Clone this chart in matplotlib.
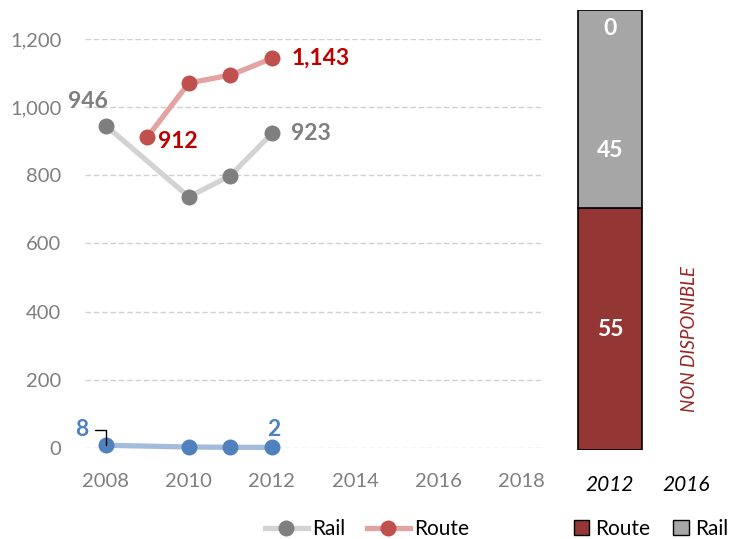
import matplotlib
matplotlib.use("Agg")
import matplotlib.pyplot as plt
from matplotlib.lines import Line2D
from matplotlib.patches import Patch

plt.rcParams['font.family'] = ['Lato', 'DejaVu Sans']

# ---- data ----
rail_years = [2008, 2010, 2011, 2012]
rail_vals = [946, 737, 799, 923]
route_years = [2009, 2010, 2011, 2012]
route_vals = [912, 1071, 1094, 1143]
other_years = [2008, 2010, 2011, 2012]
other_vals = [8, 3, 2, 2]
xticks = [2008, 2010, 2012, 2014, 2016, 2018]
yticks = [0, 200, 400, 600, 800, 1000, 1200]

bar_cats = ['2012', '2016']
bar_route = [55]
bar_rail = [45]
bar_other = [0]

# ---- colours ----
GRAY_M, GRAY_L = '#7f7f7f', '#d3d3d3'
RED_M, RED_L = '#c0504d', '#e3a3a2'
BLUE_M, BLUE_L = '#4f81bd', '#a3bcdc'
TICK_C = '#7f7f7f'

fig = plt.figure(figsize=(7.32, 5.39), dpi=100)
W, H = 732, 539

def ax_rect(x0, y0, x1, y1):
    return [x0 / W, (H - y1) / H, (x1 - x0) / W, (y1 - y0) / H]

# ---- line chart ----
ax = fig.add_axes(ax_rect(85, 39, 544, 448))
ax.set_xlim(2007.5, 2018.55)
ax.set_ylim(0, 1200)
for s in ax.spines.values():
    s.set_visible(False)
ax.set_yticks(yticks)
ax.set_yticklabels([f"{v:,}" for v in yticks])
ax.set_xticks(xticks)
ax.tick_params(length=0, labelsize=14.5, colors=TICK_C)
ax.tick_params(axis='y', pad=17)
ax.tick_params(axis='x', pad=18)
ax.grid(axis='y', color='#d0d0d0', linestyle=(0, (4, 2)), linewidth=1)
ax.set_axisbelow(True)

kw = dict(marker='o', markersize=11.5, linewidth=3.8, clip_on=False, zorder=3,
          markeredgewidth=0)
ax.plot(rail_years, rail_vals, color=GRAY_L, markerfacecolor=GRAY_M, **kw)
ax.plot(route_years, route_vals, color=RED_L, markerfacecolor=RED_M, **kw)
ax.plot(other_years, other_vals, color=BLUE_L, markerfacecolor=BLUE_M, **kw)

lab = dict(fontsize=16.5, fontweight='bold')
ax.annotate(f"{rail_vals[0]:,}", (rail_years[0], rail_vals[0]), xytext=(-13, 17),
            textcoords='offset points', ha='center', va='center', color=GRAY_M, **lab)
ax.annotate(f"{rail_vals[-1]:,}", (rail_years[-1], rail_vals[-1]), xytext=(14, 0),
            textcoords='offset points', ha='left', va='center', color=GRAY_M, **lab)
ax.annotate(f"{route_vals[0]:,}", (route_years[0], route_vals[0]), xytext=(8, -3),
            textcoords='offset points', ha='left', va='center', color='#c00000', **lab)
ax.annotate(f"{route_vals[-1]:,}", (route_years[-1], route_vals[-1]), xytext=(14, 0),
            textcoords='offset points', ha='left', va='center', color='#c00000', **lab)
ax.annotate(f"{other_vals[-1]:,}", (other_years[-1], other_vals[-1]), xytext=(1, 13),
            textcoords='offset points', ha='center', va='center', color=BLUE_M, **lab)
ax.annotate(f"{other_vals[0]:,}", (other_years[0], other_vals[0]), xytext=(-17, 11),
            textcoords='offset points', ha='center', va='center', color=BLUE_M, **lab)
# leader line for the "8" label
ax.annotate("", (other_years[0], other_vals[0]), xytext=(-8, 11), textcoords='offset points',
            arrowprops=dict(arrowstyle='-', color='black', lw=1,
                            connectionstyle='angle,angleA=0,angleB=90,rad=0',
                            shrinkA=0, shrinkB=0))

leg_handles = [
    Line2D([], [], color=GRAY_L, marker='o', markerfacecolor=GRAY_M, markeredgewidth=0,
           markersize=11.5, linewidth=3.8, label='Rail'),
    Line2D([], [], color=RED_L, marker='o', markerfacecolor=RED_M, markeredgewidth=0,
           markersize=11.5, linewidth=3.8, label='Route'),
]
fig.legend(handles=leg_handles, loc='center', bbox_to_anchor=(367 / W, 1 - 529 / H),
           ncol=2, frameon=False, fontsize=15, handlelength=2.1, columnspacing=1.0,
           handletextpad=0.2)

# ---- bar chart ----
bx = fig.add_axes(ax_rect(572, 10, 724, 450))
bx.set_xlim(-0.5, 1.5)
bx.set_ylim(0, 100)
for s in bx.spines.values():
    s.set_visible(False)
bx.set_yticks([])
xs = [0]
bx.bar(xs, bar_route, width=0.855, color='#943634', edgecolor='black', linewidth=1.2)
bx.bar(xs, bar_rail, bottom=bar_route, width=0.855, color='#a6a6a6', edgecolor='black',
       linewidth=1.2)
bx.set_xticks(range(len(bar_cats)))
bx.set_xticklabels(bar_cats, fontstyle='italic', fontsize=15, color='black')
bx.tick_params(length=0, pad=18)

blab = dict(fontsize=16.5, fontweight='bold', color='white', ha='center', va='center')
bx.text(xs[0], bar_route[0] / 2, f"{bar_route[0]}", **blab)
bx.text(xs[0], bar_route[0] + bar_rail[0] * 0.29, f"{bar_rail[0]}", **blab)
bx.text(xs[0], bar_route[0] + bar_rail[0] + bar_other[0] - 4.3, f"{bar_other[0]}", **blab)
bx.text(1.05, 25.2, "NON DISPONIBLE", rotation=90, fontstyle='italic', fontsize=13.5,
        color='#9b2423', ha='center', va='center')

bar_handles = [Patch(facecolor='#943634', edgecolor='black', label='Route'),
               Patch(facecolor='#a6a6a6', edgecolor='black', label='Rail')]
fig.legend(handles=bar_handles, loc='center', bbox_to_anchor=(651 / W, 1 - 529 / H),
           ncol=2, frameon=False, fontsize=15, handlelength=0.75, handleheight=0.75,
           columnspacing=1.1, handletextpad=0.3, borderpad=0.2)

fig.savefig("out.png", dpi=100)
